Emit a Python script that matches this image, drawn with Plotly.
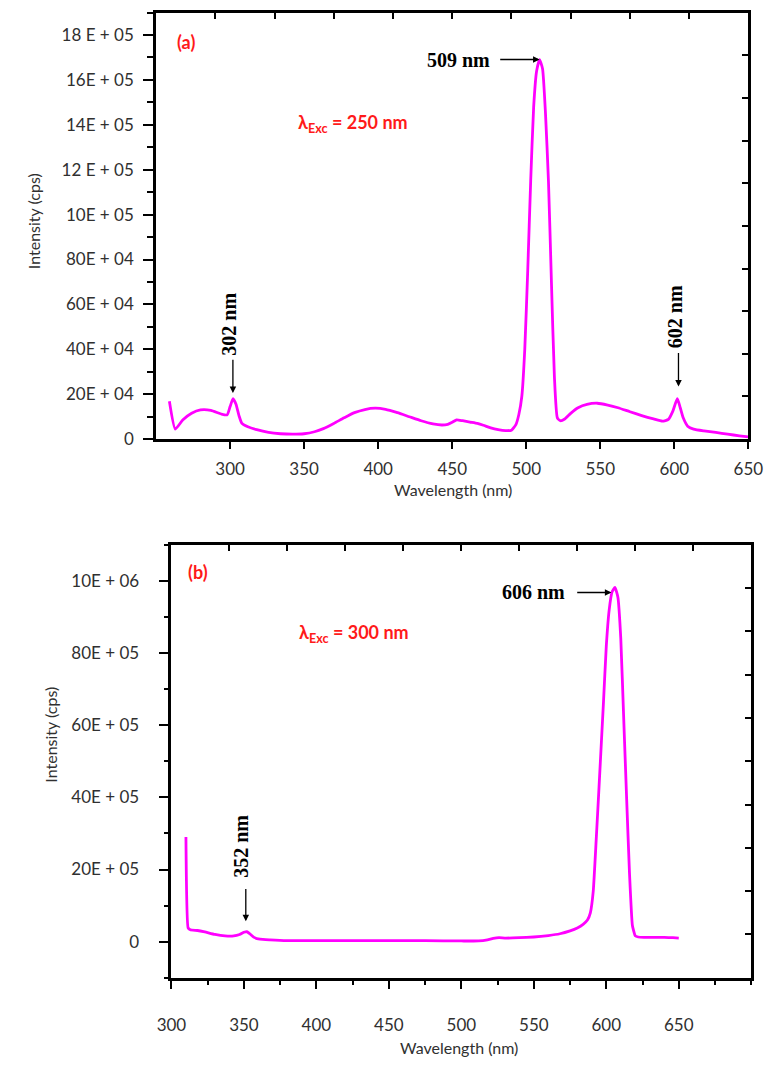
import plotly.graph_objects as go

# ---- (a) emission spectrum, excitation 250 nm ----
wl_a = [259, 263, 268, 274, 280, 287, 294, 298, 300, 302, 304, 306, 308, 312, 318,
        326, 334, 342, 350, 357, 363, 370, 377, 384, 391, 398, 405, 413, 421, 429,
        437, 443, 447, 450, 453, 457, 462, 467, 471, 476, 481, 486, 490, 493, 495,
        497, 499, 501, 503, 505, 507, 509, 511, 513, 515, 517, 519, 521, 523, 526,
        530, 535, 541, 548, 555, 562, 570, 578, 586, 592, 596, 599, 602, 604, 606,
        609, 613, 620, 628, 636, 644, 650]
int_a = [1.69e5, 0.45e5, 0.85e5, 1.15e5, 1.30e5, 1.28e5, 1.12e5, 1.08e5, 1.45e5, 1.80e5,
         1.55e5, 1.05e5, 0.70e5, 0.55e5, 0.42e5, 0.30e5, 0.24e5, 0.22e5, 0.24e5, 0.33e5,
         0.47e5, 0.70e5, 0.95e5, 1.18e5, 1.32e5, 1.38e5, 1.33e5, 1.18e5, 1.00e5, 0.82e5,
         0.68e5, 0.63e5, 0.66e5, 0.75e5, 0.86e5, 0.82e5, 0.76e5, 0.70e5, 0.62e5, 0.50e5,
         0.42e5, 0.38e5, 0.40e5, 0.65e5, 1.10e5, 1.90e5, 4.0e5, 7.5e5, 11.5e5, 14.8e5,
         16.4e5, 16.9e5, 16.5e5, 14.5e5, 11.5e5, 7.0e5, 2.8e5, 0.95e5, 0.82e5, 0.90e5,
         1.15e5, 1.40e5, 1.55e5, 1.60e5, 1.52e5, 1.40e5, 1.22e5, 1.05e5, 0.90e5, 0.80e5,
         0.88e5, 1.25e5, 1.80e5, 1.40e5, 0.95e5, 0.58e5, 0.45e5, 0.37e5, 0.30e5, 0.22e5,
         0.15e5, 0.10e5]

# ---- (b) emission spectrum, excitation 300 nm ----
wl_b = [310, 311.5, 313, 318, 323, 330, 337, 343, 347, 350, 352, 354, 357, 361, 368,
        380, 400, 425, 450, 475, 500, 512, 518, 522, 526, 530, 540, 550, 560, 568,
        575, 580, 584, 587, 589, 591, 593, 595, 598, 600, 602, 604, 606, 608, 610,
        612, 614, 616, 618, 620, 622, 626, 632, 640, 646, 650]
int_b = [2.90e6, 0.38e6, 0.33e6, 0.31e6, 0.27e6, 0.20e6, 0.16e6, 0.16e6, 0.20e6, 0.26e6,
         0.28e6, 0.22e6, 0.12e6, 0.07e6, 0.05e6, 0.03e6, 0.03e6, 0.03e6, 0.03e6, 0.03e6,
         0.02e6, 0.02e6, 0.05e6, 0.09e6, 0.11e6, 0.10e6, 0.11e6, 0.13e6, 0.17e6, 0.22e6,
         0.30e6, 0.38e6, 0.48e6, 0.60e6, 0.80e6, 1.4e6, 2.8e6, 4.3e6, 6.6e6, 8.2e6,
         9.2e6, 9.7e6, 9.82e6, 9.55e6, 8.4e6, 6.2e6, 4.0e6, 1.9e6, 0.45e6, 0.16e6,
         0.13e6, 0.12e6, 0.12e6, 0.12e6, 0.11e6, 0.10e6]

# ---- tick labels ----
ytick_a_vals = [0, 2e5, 4e5, 6e5, 8e5, 10e5, 12e5, 14e5, 16e5, 18e5]
ytick_a_text = ["0", "20E + 04", "40E + 04", "60E + 04", "80E + 04",
                "10E + 05", "12 E + 05", "14E + 05", "16E + 05", "18 E + 05"]
ytick_b_vals = [0, 2e6, 4e6, 6e6, 8e6, 10e6]
ytick_b_text = ["0", "20E + 05", "40E + 05", "60E + 05", "80E + 05", "10E + 06"]
xtick_a_vals = [300, 350, 400, 450, 500, 550, 600, 650]
xtick_b_vals = [300, 350, 400, 450, 500, 550, 600, 650]

MAGENTA = "#FF00FF"
LABEL_COLOR = "#303030"
TICK_FONT = dict(family="Lato, 'Open Sans', sans-serif", size=17, color=LABEL_COLOR)
SERIF_BOLD = dict(family="'Liberation Serif', 'DejaVu Serif', serif", size=20, color="black")
RED = "#FF1A1A"

fig = go.Figure()

fig.add_trace(go.Scatter(x=wl_a, y=int_a, mode="lines", xaxis="x", yaxis="y",
                         line=dict(color=MAGENTA, width=2.8, shape="spline", smoothing=0.5),
                         showlegend=False, hoverinfo="x+y"))
fig.add_trace(go.Scatter(x=wl_b, y=int_b, mode="lines", xaxis="x2", yaxis="y2",
                         line=dict(color=MAGENTA, width=2.8, shape="spline", smoothing=0.4),
                         showlegend=False, hoverinfo="x+y"))
# empty traces that register the mirrored (top/right) tick axes
fig.add_trace(go.Scatter(x=[None], y=[None], xaxis="x3", yaxis="y3", showlegend=False))
fig.add_trace(go.Scatter(x=[None], y=[None], xaxis="x4", yaxis="y4", showlegend=False))

frame = dict(showline=True, linecolor="black", linewidth=2.8, mirror=True,
             showgrid=False, zeroline=False)
mirror_ticks = dict(ticks="inside", ticklen=6, tickwidth=2, tickcolor="black",
                    showticklabels=False, showline=False, showgrid=False, zeroline=False)

dom_xa = [146.7 / 780, 762.7 / 780]
dom_ya = [1 - 443.3 / 1069, 1 - 12.7 / 1069]
dom_xb = [162.7 / 780, 765.7 / 780]
dom_yb = [1 - 987 / 1069, 1 - 550 / 1069]

RANGE_XA = [250, 650]
RANGE_YA = [0, 1.9e6]
RANGE_XB = [300, 700]
RANGE_YB = [-1e6, 11e6]

fig.update_layout(
    width=780, height=1069,
    margin=dict(l=0, r=0, t=0, b=0),
    paper_bgcolor="white", plot_bgcolor="white",
    showlegend=False,
    xaxis=dict(domain=dom_xa, range=RANGE_XA, anchor="y", **frame,
               tickmode="array", tickvals=xtick_a_vals, ticks="outside", ticklen=7,
               tickwidth=2, tickcolor="black", tickfont=TICK_FONT, ticklabelstandoff=6),
    yaxis=dict(domain=dom_ya, range=RANGE_YA, anchor="x", **frame,
               tickmode="array", tickvals=ytick_a_vals, ticktext=ytick_a_text,
               ticks="outside", ticklen=10, tickwidth=2, tickcolor="black",
               tickfont=TICK_FONT, ticklabelstandoff=6,
               minor=dict(ticks="outside", ticklen=6, tickwidth=2, tickcolor="black",
                          tick0=0, dtick=1e5)),
    xaxis3=dict(overlaying="x", side="top", anchor="y3", range=RANGE_XA,
                tick0=250, dtick=40, **mirror_ticks),
    yaxis3=dict(overlaying="y", side="right", anchor="x3", range=RANGE_YA,
                tick0=0, dtick=1.9e5, **mirror_ticks),
    xaxis2=dict(domain=dom_xb, range=RANGE_XB, anchor="y2", **frame,
                tickmode="array", tickvals=xtick_b_vals, ticks="outside", ticklen=8,
                tickwidth=2, tickcolor="black", tickfont=TICK_FONT, ticklabelstandoff=22,
                minor=dict(ticks="outside", ticklen=4, tickwidth=2, tickcolor="black",
                           tick0=300, dtick=25)),
    yaxis2=dict(domain=dom_yb, range=RANGE_YB, anchor="x2", **frame,
                tickmode="array", tickvals=ytick_b_vals, ticktext=ytick_b_text,
                ticks="outside", ticklen=10, tickwidth=2, tickcolor="black",
                tickfont=TICK_FONT, ticklabelstandoff=16,
                minor=dict(ticks="outside", ticklen=5, tickwidth=2, tickcolor="black",
                           tick0=0, dtick=1e6)),
    xaxis4=dict(overlaying="x2", side="top", anchor="y4", range=RANGE_XB,
                tick0=300, dtick=40, **mirror_ticks),
    yaxis4=dict(overlaying="y2", side="right", anchor="x4", range=RANGE_YB,
                tick0=-1e6, dtick=1.2e6, **mirror_ticks),
)

ann = []
centered = dict(xanchor="center", yanchor="middle")

# axis titles
title_font = dict(family="Lato, 'Open Sans', sans-serif", size=16, color=LABEL_COLOR)
ann += [
    dict(text="Intensity (cps)", x=20 / 780, y=1 - 223 / 1069, xref="paper", yref="paper",
         textangle=-90, showarrow=False, font=title_font, **centered),
    dict(text="Wavelength (nm)", x=455 / 780, y=1 - 494 / 1069, xref="paper", yref="paper",
         showarrow=False, font=title_font, **centered),
    dict(text="Intensity (cps)", x=36 / 780, y=1 - 742 / 1069, xref="paper", yref="paper",
         textangle=-90, showarrow=False, font=title_font, **centered),
    dict(text="Wavelength (nm)", x=462 / 780, y=1 - 1057 / 1069, xref="paper", yref="paper",
         showarrow=False, font=title_font, **centered),
]

label_font = dict(family="Lato, 'Open Sans', sans-serif", size=18, color=RED, weight="bold")

# panel (a) labels
ann += [
    dict(text="(a)", x=270, y=1.768e6, xref="x", yref="y", showarrow=False, font=label_font,
         **centered),
    dict(text="λ<sub>Exc</sub> = 250 nm", x=383, y=1.404e6, xref="x", yref="y",
         showarrow=False, font=label_font, **centered),
    dict(text="<b>509 nm</b>", x=454, y=1.691e6, xref="x", yref="y", showarrow=False,
         font=SERIF_BOLD, **centered),
    dict(text="<b>302 nm</b>", x=299.4, y=5.11e5, xref="x", yref="y", showarrow=False,
         textangle=-90, font=SERIF_BOLD, **centered),
    dict(text="<b>602 nm</b>", x=600.6, y=5.44e5, xref="x", yref="y", showarrow=False,
         textangle=-90, font=SERIF_BOLD, **centered),
]
# panel (b) labels
ann += [
    dict(text="(b)", x=318.6, y=10.24e6, xref="x2", yref="y2", showarrow=False,
         font=label_font, **centered),
    dict(text="λ<sub>Exc</sub> = 300 nm", x=425.6, y=8.53e6, xref="x2", yref="y2",
         showarrow=False, font=label_font, **centered),
    dict(text="<b>606 nm</b>", x=549.6, y=9.70e6, xref="x2", yref="y2", showarrow=False,
         font=SERIF_BOLD, **centered),
    dict(text="<b>352 nm</b>", x=348, y=2.63e6, xref="x2", yref="y2", showarrow=False,
         textangle=-90, font=SERIF_BOLD, **centered),
]

# peak-marker arrows (tail -> tip, in data units)
arrow_style = dict(showarrow=True, arrowhead=2, arrowsize=1, arrowwidth=1.3,
                   arrowcolor="black", text="", standoff=0, startstandoff=0)
arrows = [
    ("x", "y", 481.4, 1.691e6, 509.0, 1.691e6),
    ("x", "y", 301.9, 3.60e5, 301.9, 2.06e5),
    ("x", "y", 602.8, 3.90e5, 602.8, 2.35e5),
    ("x2", "y2", 578.9, 9.68e6, 603.5, 9.68e6),
    ("x2", "y2", 351.3, 1.50e6, 351.3, 0.57e6),
]
for xr, yr, x0, y0, x1, y1 in arrows:
    ann.append(dict(x=x1, y=y1, ax=x0, ay=y0, xref=xr, yref=yr, axref=xr, ayref=yr,
                    **arrow_style))

fig.update_layout(annotations=ann)

fig.write_html("out.html")
